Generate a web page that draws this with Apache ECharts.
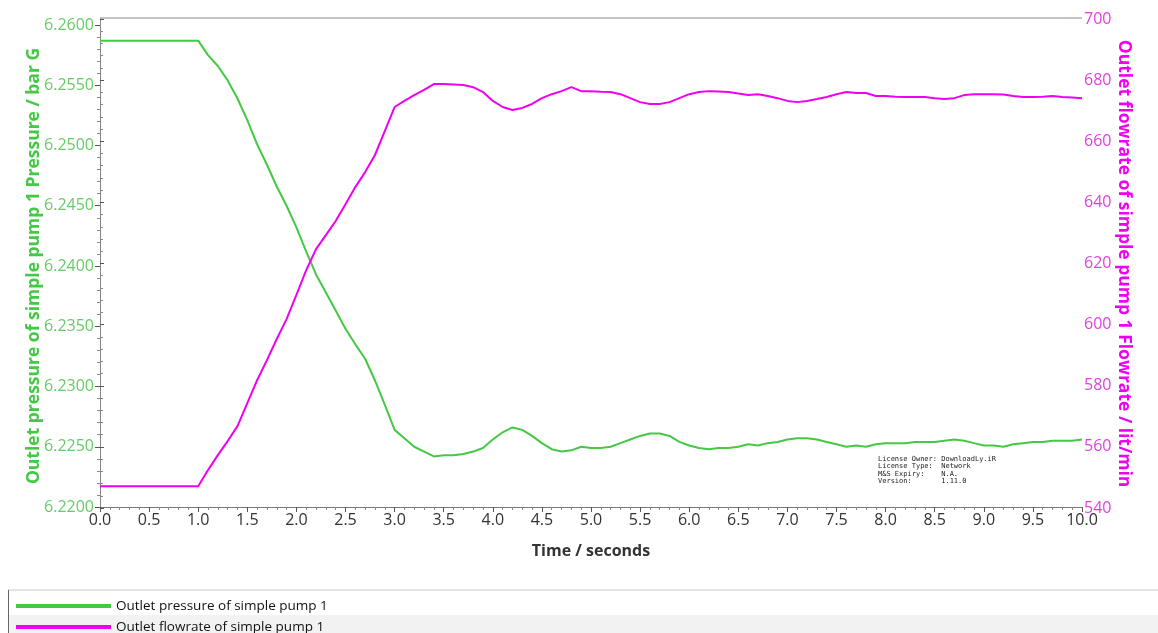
<!DOCTYPE html>
<html>
<head>
<meta charset="utf-8">
<title>Simple pump 1</title>
<script src="https://cdn.jsdelivr.net/npm/echarts@6/dist/echarts.min.js"></script>
<style>
  html, body { margin: 0; padding: 0; background: #fff; }
  #chart { width: 1158px; height: 633px; }
</style>
</head>
<body>
<div id="chart"></div>
<script>
// time in seconds (flat before 1.0 s)
var times = [0.0, 1.0, 1.1, 1.2, 1.3, 1.4, 1.5, 1.6, 1.7, 1.8, 1.9,
    2.0, 2.1, 2.2, 2.3, 2.4, 2.5, 2.6, 2.7, 2.8, 2.9,
    3.0, 3.1, 3.2, 3.3, 3.4, 3.5, 3.6, 3.7, 3.8, 3.9,
    4.0, 4.1, 4.2, 4.3, 4.4, 4.5, 4.6, 4.7, 4.8, 4.9,
    5.0, 5.1, 5.2, 5.3, 5.4, 5.5, 5.6, 5.7, 5.8, 5.9,
    6.0, 6.1, 6.2, 6.3, 6.4, 6.5, 6.6, 6.7, 6.8, 6.9,
    7.0, 7.1, 7.2, 7.3, 7.4, 7.5, 7.6, 7.7, 7.8, 7.9,
    8.0, 8.1, 8.2, 8.3, 8.4, 8.5, 8.6, 8.7, 8.8, 8.9,
    9.0, 9.1, 9.2, 9.3, 9.4, 9.5, 9.6, 9.7, 9.8, 9.9, 10.0];

// Outlet pressure / bar G
var pressure = [6.2587, 6.2587, 6.2575, 6.2566, 6.2554, 6.2539, 6.2521, 6.2501, 6.2484, 6.2466, 6.2450,
    6.2432, 6.2412, 6.2393, 6.2378, 6.2363, 6.2348, 6.2335, 6.2323, 6.2305, 6.2285,
    6.2264, 6.2257, 6.2250, 6.2246, 6.2242, 6.2243, 6.2243, 6.2244, 6.2246, 6.2249,
    6.2256, 6.2262, 6.2266, 6.2264, 6.2259, 6.2253, 6.2248, 6.2246, 6.2247, 6.2250,
    6.2249, 6.2249, 6.2250, 6.2253, 6.2256, 6.2259, 6.2261, 6.2261, 6.2259, 6.2254,
    6.2251, 6.2249, 6.2248, 6.2249, 6.2249, 6.2250, 6.2252, 6.2251, 6.2253, 6.2254,
    6.2256, 6.2257, 6.2257, 6.2256, 6.2254, 6.2252, 6.2250, 6.2251, 6.2250, 6.2252,
    6.2253, 6.2253, 6.2253, 6.2254, 6.2254, 6.2254, 6.2255, 6.2256, 6.2255, 6.2253,
    6.2251, 6.2251, 6.2250, 6.2252, 6.2253, 6.2254, 6.2254, 6.2255, 6.2255, 6.2255, 6.2256];

// Outlet flowrate / lit/min
var flowrate = [547.1, 547.1, 552.4, 557.3, 561.9, 566.8, 574.3, 581.8, 588.4, 595.3, 601.8,
    609.7, 617.8, 624.7, 629.3, 633.9, 639.4, 645.0, 649.9, 655.5, 663.3,
    671.2, 673.2, 675.1, 676.8, 678.7, 678.7, 678.6, 678.4, 677.7, 676.1,
    673.2, 671.2, 670.2, 670.9, 672.2, 674.1, 675.4, 676.4, 677.7, 676.4,
    676.4, 676.2, 676.1, 675.4, 674.1, 672.8, 672.2, 672.2, 672.8, 674.1,
    675.4, 676.1, 676.4, 676.3, 676.1, 675.6, 675.1, 675.4, 674.8, 674.1,
    673.2, 672.8, 673.2, 673.8, 674.5, 675.4, 676.1, 675.8, 675.8, 674.8,
    674.8, 674.6, 674.5, 674.5, 674.5, 674.1, 673.8, 674.1, 675.1, 675.4,
    675.4, 675.4, 675.3, 674.8, 674.5, 674.5, 674.6, 674.8, 674.5, 674.3, 674.1];

var pressureName = 'Outlet pressure of simple pump 1';
var flowrateName = 'Outlet flowrate of simple pump 1';

var green = '#45c845';
var magenta = '#f000f0';

function pairs(xs, ys) {
    return xs.map(function (x, i) { return [x, ys[i]]; });
}

var myChart = echarts.init(document.getElementById('chart'));

var xBase = {
    type: 'value',
    min: 0,
    max: 10,
    interval: 0.5,
    splitLine: { show: false }
};

var legendBase = {
    left: 16,
    padding: 0,
    icon: 'rect',
    itemWidth: 95,
    itemHeight: 4,
    selectedMode: false,
    textStyle: { fontFamily: 'Open Sans', fontSize: 13.5, color: '#111' }
};

myChart.setOption({
    animation: false,
    legend: [
        Object.assign({}, legendBase, { top: 599, data: [pressureName] }),
        Object.assign({}, legendBase, { top: 620, data: [flowrateName] })
    ],
    grid: [
        // left axis grid (pressure)
        { left: 100, right: 76, top: 25, bottom: 126 },
        // right axis grid (flowrate) is slightly taller
        { left: 100, right: 76, top: 19, bottom: 125 }
    ],
    xAxis: [
        Object.assign({}, xBase, {
            gridIndex: 0,
            position: 'bottom',
            name: 'Time / seconds',
            nameLocation: 'middle',
            nameGap: 36,
            nameTextStyle: { fontFamily: 'Open Sans', fontWeight: 'bold', fontSize: 16, color: '#333' },
            axisLine: { lineStyle: { color: '#777' } },
            axisTick: { length: 5, lineStyle: { color: '#555' } },
            minorTick: { show: true, splitNumber: 5, length: 3, lineStyle: { color: '#888' } },
            axisLabel: {
                margin: 5,
                fontFamily: 'Open Sans', fontSize: 16, color: '#333',
                formatter: function (v) { return v.toFixed(1); }
            }
        }),
        Object.assign({}, xBase, {
            gridIndex: 1,
            show: false
        })
    ],
    yAxis: [
        {
            type: 'value',
            gridIndex: 0,
            position: 'left',
            min: 6.22,
            max: 6.26,
            interval: 0.005,
            name: 'Outlet pressure of simple pump 1 Pressure / bar G',
            nameLocation: 'middle',
            nameGap: 57,
            nameMoveOverlap: false,
            nameTextStyle: { fontFamily: 'Open Sans', fontWeight: 'bold', fontSize: 17.5, color: green },
            splitLine: { show: false },
            axisLine: { show: true, lineStyle: { color: '#888' } },
            axisTick: { length: 5, lineStyle: { color: '#555' } },
            minorTick: { show: true, splitNumber: 5, length: 3, lineStyle: { color: '#888' } },
            axisLabel: {
                margin: 6,
                fontFamily: 'Open Sans', fontSize: 16, color: '#66cc66',
                formatter: function (v) { return v.toFixed(4); }
            }
        },
        {
            type: 'value',
            gridIndex: 1,
            position: 'right',
            min: 540,
            max: 700,
            interval: 20,
            name: 'Outlet flowrate of simple pump 1 Flowrate / lit/min',
            nameLocation: 'middle',
            nameRotate: -90,
            nameGap: 33,
            nameMoveOverlap: false,
            nameTextStyle: { fontFamily: 'Open Sans', fontWeight: 'bold', fontSize: 17.5, color: magenta },
            splitLine: { show: false },
            axisLine: { show: true, lineStyle: { color: '#888' } },
            axisTick: { length: 4, lineStyle: { color: '#555' } },
            minorTick: { show: true, splitNumber: 5, length: 3, lineStyle: { color: '#888' } },
            axisLabel: {
                margin: 2,
                fontFamily: 'Open Sans', fontSize: 16, color: '#e040e0'
            }
        }
    ],
    graphic: [
        // top border of the plot frame
        { type: 'line', shape: { x1: 100, y1: 18, x2: 1082, y2: 18 }, style: { stroke: '#888', lineWidth: 1 } },
        // legend panel
        { type: 'rect', shape: { x: 8, y: 615, width: 1150, height: 18 }, style: { fill: '#f2f2f2' }, z: -1 },
        { type: 'line', shape: { x1: 8, y1: 590, x2: 1158, y2: 590 }, style: { stroke: '#c8c8c8', lineWidth: 1 } },
        { type: 'line', shape: { x1: 8.5, y1: 590, x2: 8.5, y2: 633 }, style: { stroke: '#666', lineWidth: 1 } },
        // license stamp
        {
            type: 'text', left: 878, top: 455,
            style: {
                text: 'License Owner: DownloadLy.iR\nLicense Type:  Network\nM&S Expiry:    N.A.\nVersion:       1.11.0',
                font: '7px "DejaVu Sans Mono"',
                lineHeight: 7.5,
                fill: '#222'
            }
        }
    ],
    series: [
        {
            name: pressureName,
            type: 'line',
            xAxisIndex: 0,
            yAxisIndex: 0,
            showSymbol: false,
            symbol: 'none',
            color: green,
            lineStyle: { width: 2, color: green },
            data: pairs(times, pressure)
        },
        {
            name: flowrateName,
            type: 'line',
            xAxisIndex: 1,
            yAxisIndex: 1,
            showSymbol: false,
            symbol: 'none',
            color: magenta,
            lineStyle: { width: 2, color: magenta },
            data: pairs(times, flowrate)
        }
    ]
});
</script>
</body>
</html>
